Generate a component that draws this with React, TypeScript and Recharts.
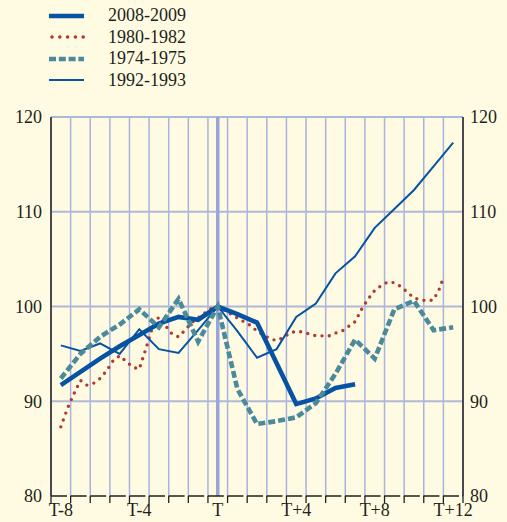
import React from 'react';
import { LineChart, Line, XAxis, YAxis, CartesianGrid, ReferenceLine } from 'recharts';

// quarters around the cycle peak T, T-8 .. T+12
const QUARTERS = [-8, -7, -6, -5, -4, -3, -2, -1, 0, 1, 2, 3, 4, 5, 6, 7, 8, 9, 10, 11, 12];
const X_LABELS: Record<number, string> = { [-8]: 'T-8', [-4]: 'T-4', 0: 'T', 4: 'T+4', 8: 'T+8', 12: 'T+12' };
const Y_TICKS = [80, 90, 100, 110, 120];

const V_2008 = [91.7, 93.1, 94.5, 95.8, 97.0, 98.2, 98.9, 98.6, 100, 99.2, 98.3, 94.0, 89.7, 90.3, 91.4, 91.8];
const V_1974 = [92.4, 95.0, 96.8, 98.1, 99.7, 97.8, 100.8, 96.3, 100, 91.3, 87.6, 87.9, 88.3, 89.8, 92.9, 96.5, 94.5, 99.7, 100.6, 97.5, 97.8];
const V_1992 = [95.9, 95.3, 96.1, 95.0, 97.6, 95.5, 95.1, 97.5, 100, 97.4, 94.6, 95.5, 98.9, 100.3, 103.5, 105.3, 108.3, 110.3, 112.3, 114.8, 117.3];

// 1980-1982 is monthly
const T_1980 = [
  -8, -7.67, -7.33, -7, -6.67, -6.33, -6, -5.67, -5.33, -5, -4.67, -4.33, -4, -3.67, -3.33, -3, -2.67, -2.33, -2, -1.67,
  -1.33, -1, -0.67, -0.33, 0, 0.33, 0.67, 1, 1.33, 1.67, 2, 2.33, 2.67, 3, 3.33, 3.67, 4, 4.33, 4.67, 5,
  5.33, 5.67, 6, 6.33, 6.67, 7, 7.33, 7.67, 8, 8.33, 8.67, 9, 9.33, 9.67, 10, 10.33, 10.67, 11, 11.33, 11.5,
];
const V_1980 = [
  87.3, 89.2, 90.8, 92.2, 91.7, 91.9, 92.4, 93.2, 94.3, 94.8, 94.2, 93.6, 93.4, 95.5, 97.8, 98.9, 98.0, 97.1, 96.8, 97.5,
  98.3, 98.8, 99.3, 99.8, 100, 99.6, 99.2, 98.8, 98.4, 98.0, 97.4, 97.0, 96.6, 96.4, 96.7, 97.2, 97.4, 97.3, 97.1, 96.9,
  96.9, 96.9, 97.2, 97.4, 97.9, 98.4, 99.7, 100.8, 101.7, 102.2, 102.6, 102.5, 102.1, 101.5, 100.9, 100.7, 100.6, 100.7, 102.0, 103.1,
];

const d2008 = V_2008.map((v, i) => ({ t: QUARTERS[i], v }));
const d1974 = V_1974.map((v, i) => ({ t: QUARTERS[i], v }));
const d1992 = V_1992.map((v, i) => ({ t: QUARTERS[i], v }));
const d1980 = V_1980.map((v, i) => ({ t: T_1980[i], v }));

// band edges for ticks and vertical grid
const EDGES = [...QUARTERS.map((q) => q - 0.5), 12.5];

const W = 507;
const H = 522;
const LEFT_W = 51;
const RIGHT_W = 44;
const BAND = (W - LEFT_W - RIGHT_W) / QUARTERS.length;

const FONT = '"Liberation Serif", "Times New Roman", serif';
const INK = '#231f20';
const BG = '#fffbe2';
const BLUE = '#0753a3';
const RED = '#b1392e';
const TEAL = '#4b8a9a';
const GRID = '#a9b3e0';

const XTick = (props: any) => {
  const { x, y, payload } = props;
  const lab = X_LABELS[payload.value + 0.5];
  if (!lab) return null;
  return (
    <text x={x + BAND / 2} y={y} dy="0.71em" textAnchor="middle" fontSize={18} fontFamily={FONT} fill={INK}>
      {lab}
    </text>
  );
};

const legendRows = [
  { name: '2008-2009', color: BLUE, width: 4.5, dash: undefined, cap: 'butt' },
  { name: '1980-1982', color: RED, width: 3.6, dash: '0 7.8', cap: 'round' },
  { name: '1974-1975', color: TEAL, width: 4.5, dash: '7 2.8', cap: 'butt' },
  { name: '1992-1993', color: BLUE, width: 2, dash: undefined, cap: 'butt' },
];

export default function App() {
  return (
    <div style={{ position: 'absolute', left: 0, top: 0, width: W, height: H, background: BG, overflow: 'hidden' }}>
      {/* legend */}
      <div style={{ position: 'absolute', left: 0, top: 5 }}>
        {legendRows.map((r) => (
          <div key={r.name} style={{ display: 'flex', alignItems: 'center', height: 21.5 }}>
            <svg width={108} height={12} style={{ display: 'block' }}>
              <line x1={r.cap === 'round' ? 52 : 49} x2={84} y1={6} y2={6} stroke={r.color} strokeWidth={r.width}
                strokeDasharray={r.dash} strokeLinecap={r.cap as any} />
            </svg>
            <span style={{ fontFamily: FONT, fontSize: 18, color: INK, lineHeight: '21px' }}>{r.name}</span>
          </div>
        ))}
      </div>

      <div style={{ position: 'absolute', left: 0, top: 0 }}>
        <LineChart width={W} height={H} margin={{ top: 117, right: 0, bottom: 0, left: 0 }}>
          <CartesianGrid horizontal={false} stroke={GRID} strokeWidth={1.5} />
          <XAxis
            dataKey="t"
            type="number"
            domain={[-8.5, 12.5]}
            ticks={EDGES}
            interval={0}
            allowDataOverflow
            height={26}
            tickSize={7}
            tickMargin={0}
            axisLine={{ stroke: INK, strokeWidth: 1.3, strokeDasharray: '16 3.6' }}
            tickLine={{ stroke: INK, strokeWidth: 1.3 }}
            tick={<XTick />}
          />
          <YAxis
            yAxisId="l"
            orientation="left"
            width={LEFT_W}
            domain={[80, 120]}
            ticks={Y_TICKS}
            allowDataOverflow
            tickLine={false}
            tickSize={9}
            tickMargin={0}
            axisLine={{ stroke: INK, strokeWidth: 1.5 }}
            tick={{ fontSize: 18, fontFamily: FONT, fill: INK }}
          />
          <YAxis
            yAxisId="r"
            orientation="right"
            width={RIGHT_W}
            domain={[80, 120]}
            ticks={Y_TICKS}
            allowDataOverflow
            tickLine={false}
            tickSize={7}
            tickMargin={0}
            axisLine={{ stroke: INK, strokeWidth: 1.5 }}
            tick={{ fontSize: 18, fontFamily: FONT, fill: INK, textAnchor: 'start' }}
          />
          {[90, 100, 110, 120].map((y) => (
            <ReferenceLine key={y} yAxisId="l" y={y} stroke="#b0b8d8" strokeWidth={1.8} />
          ))}
          <ReferenceLine yAxisId="l" x={0} stroke="#98a4da" strokeWidth={3.5} />

          <Line yAxisId="l" data={d1980} dataKey="v" stroke={RED} strokeWidth={3.4} strokeDasharray="0 7.3"
            strokeLinecap="round" dot={false} isAnimationActive={false} />
          <Line yAxisId="l" data={d1992} dataKey="v" stroke={BLUE} strokeWidth={2} dot={false} isAnimationActive={false} />
          <Line yAxisId="l" data={d2008} dataKey="v" stroke={BLUE} strokeWidth={4.6} dot={false} isAnimationActive={false} />
          <Line yAxisId="l" data={d1974} dataKey="v" stroke={TEAL} strokeWidth={4.6} strokeDasharray="7 3"
            dot={false} isAnimationActive={false} />
        </LineChart>
      </div>
    </div>
  );
}
